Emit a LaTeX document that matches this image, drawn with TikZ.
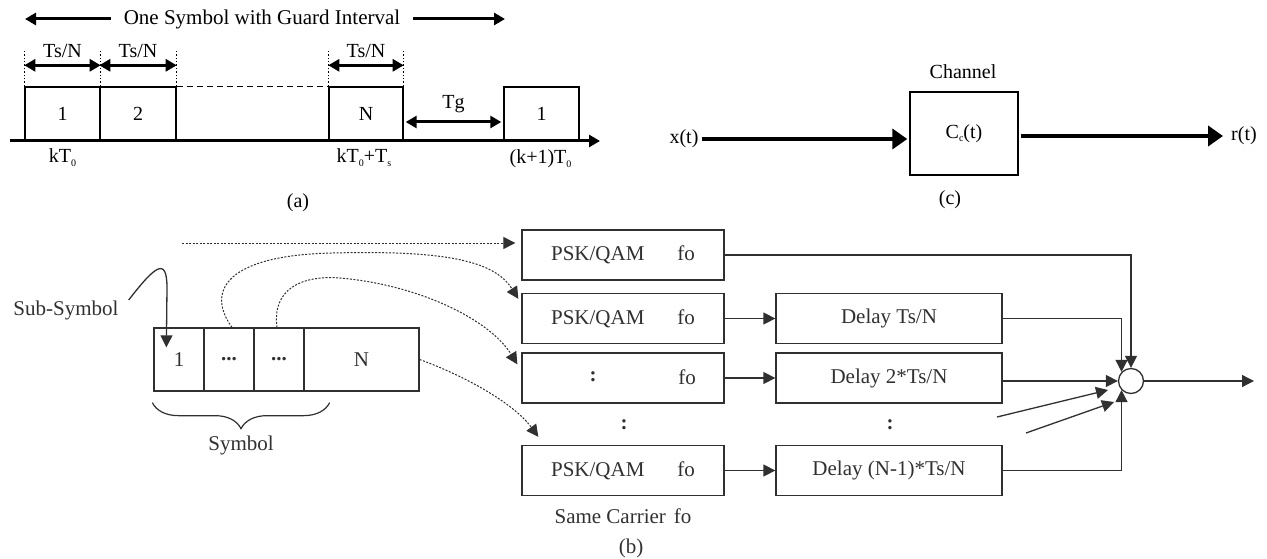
\documentclass[tikz,border=0pt]{standalone}
\usepackage{fontspec}
\setmainfont{Liberation Serif}
\usetikzlibrary{arrows.meta,decorations.pathreplacing,calc}
\definecolor{ink}{HTML}{303030}
\newcommand\lowsub[1]{\raisebox{-0.4ex}{\fontsize{10}{10}\selectfont #1}}

\tikzset{
  fathead/.tip={Triangle[length=11pt,width=12pt]},
  chanhead/.tip={Triangle[length=15pt,width=20pt]},
  flowhead/.tip={Triangle[length=12pt,width=12pt]},
  lbl/.style={font=\fontsize{20}{22}\selectfont, inner sep=0pt},
  blbl/.style={font=\fontsize{21}{23}\selectfont, inner sep=0pt, text=ink},
  slot/.style={lbl, draw, line width=1.4pt, minimum height=54pt, minimum width=75pt},
  span/.style={line width=3pt, fathead-fathead},
  wide/.style={line width=3pt, -fathead},
  chanline/.style={line width=4pt, -chanhead},
  pbox/.style={blbl, draw=ink, line width=1.3pt, minimum width=202pt, minimum height=50pt},
  dbox/.style={blbl, draw=ink, line width=1.3pt, minimum width=226pt, minimum height=50pt},
  sbox/.style={blbl, draw=ink, line width=1.3pt, minimum height=63pt},
  flow/.style={draw=ink, line width=1.3pt, -flowhead},
  dotline/.style={draw=ink, line width=1pt, dash pattern=on 2pt off 1.5pt, -flowhead},
}

\begin{document}
\begin{tikzpicture}[x=1pt,y=-1pt]
\useasboundingbox (0,0) rectangle (1267,559);

% ---------- (a) time frame of one symbol ----------
\node[lbl, font=\fontsize{21}{23}\selectfont] (title) at (262,19) {One Symbol with Guard Interval};
\coordinate (tl) at (25,19);
\coordinate (tr) at (505,19);
\draw[wide] ($(title.west)+(-13,0)$) -- (tl);
\draw[wide] ($(title.east)+(13,0)$) -- (tr);

\node[slot] (a1) at (62.5,114) {1};
\node[slot, minimum width=76pt] (a2) at (138,114) {2};
\node[slot, minimum width=74pt] (aN) at (366,114) {N};
\node[slot] (a1n) at (541.5,114) {1};

\draw[line width=1.4pt, dash pattern=on 6pt off 4pt] (a2.north east) -- (aN.north west);

\coordinate (ax0) at (10,141);
\coordinate (ax1) at (600,141);
\draw[line width=3pt, -fathead] (ax0) -- (ax1);

\foreach \p in {a1.north west, a1.north east, a2.north east, aN.north west, aN.north east}
  \draw[dotted, line width=1.4pt] (\p) -- ++(0,-37);

\draw[span] ($(a1.north west)+(0,-21)$) -- ($(a1.north east)+(0,-21)$);
\draw[span] ($(a2.north west)+(0,-21)$) -- ($(a2.north east)+(0,-21)$);
\draw[span] ($(aN.north west)+(0,-21)$) -- ($(aN.north east)+(0,-21)$);
\node[lbl] (t1) at ($(a1.north)+(0,-35)$) {Ts/N};
\node[lbl] (t2) at ($(a2.north)+(0,-35)$) {Ts/N};
\node[lbl] (t3) at ($(aN.north)+(0,-35)$) {Ts/N};

\draw[span] ($(aN.east)+(2,8)$) -- ($(a1n.west)+(-2,8)$);
\node[lbl] (tg) at ($(aN.east)!0.5!(a1n.west)+(0,-10)$) {Tg};

\node[lbl] (k0) at ($(a1.south)+(0,16)$) {kT\lowsub{0}};
\node[lbl] (k1) at ($(aN.south)+(-2,16)$) {kT\lowsub{0}+T\lowsub{s}};
\node[lbl] (k2) at ($(a1n.south)+(-1,17)$) {(k+1)T\lowsub{0}};
\node[lbl] (capa) at (298,203) {(a)};

% ---------- (c) channel ----------
\node[lbl, draw, line width=1.4pt, minimum width=108pt, minimum height=83pt] (chan) at (964,133.5) {C\lowsub{c}(t)};
\node[lbl] (chname) at (963,72) {Channel};
\node[lbl] (xt) at (684,139) {x(t)};
\node[lbl] (rt) at (1244,136) {r(t)};
\draw[chanline] ($(xt.east)+(3,0)$) -- ($(chan.west |- xt.east)+(-2,0)$);
\draw[chanline] ($(chan.east |- rt.west)+(2,0)$) -- ($(rt.west)+(-8,0)$);
\node[lbl] (capc) at (950,200) {(c)};

% ---------- (b) sub-symbols on one carrier ----------
\node[sbox, minimum width=50pt] (s1) at (179,359.5) {1};
\node[sbox, minimum width=50pt] (s2) at (229,359.5) {\textbf{...}};
\node[sbox, minimum width=50pt] (s3) at (279,359.5) {\textbf{...}};
\node[sbox, minimum width=115pt] (sN) at (361.5,359.5) {N};

\node[blbl] (sub) at (66,310) {Sub-Symbol};
\draw[flow] ($(sub.east)+(10,-10)$) .. controls (155,266) and (167,256) .. (167,288) -- ($(s1.north west)+(13,20)$);

\draw[draw=ink, line width=1.2pt, decorate, decoration={brace, amplitude=26pt}]
  ($(s3.south east)+(25,11)$) -- ($(s1.south west)+(-1,11)$);
\node[blbl] (sym) at (241,445) {Symbol};

\node[pbox] (p1) at (623,255) {PSK/QAM\hspace{33pt}fo};
\node[pbox] (p2) at (623,318.5) {PSK/QAM\hspace{33pt}fo};
\node[pbox] (p3) at (623,378) {};
\node[blbl] (p3a) at (593,377) {\textbf{:}};
\node[blbl] (p3b) at (687,377) {fo};
\node[pbox] (p4) at (623,470.5) {PSK/QAM\hspace{33pt}fo};
\node[blbl] (vd1) at (624,425) {\textbf{:}};

\node[dbox] (d2) at (889,318.5) {Delay Ts/N};
\node[dbox] (d3) at (889,378) {Delay 2*Ts/N};
\node[dbox] (d4) at (889,470.5) {Delay (N-1)*Ts/N};
\node[blbl] (vd2) at (890,425) {\textbf{:}};

\node[blbl] (same) at (623,516) {Same Carrier\hspace{8pt}fo};
\node[blbl] (capb) at (631,548) {(b)};

% serial-to-parallel feeds
\coordinate (src) at (182,243);
\draw[dotline] (src) -- ($(p1.west |- src)+(-6,0)$);
\draw[dotline] ($(s2.north)+(3,0)$) .. controls (205,290) and (228,255) .. (333,253)
  .. controls (450,250) and (495,262) .. ($(p2.north west)+(-3,6)$);
\draw[dotline] ($(s3.north)+(-2,0)$) .. controls (272,290) and (300,275) .. (340,278)
  .. controls (420,285) and (490,320) .. ($(p3.north west)+(-4,12)$);
\draw[dotline] (sN.east) .. controls (470,378) and (515,405) .. ($(p4.north west)+(17,-8)$);

% modulators to delays
\draw[flow] (p2.east) -- (d2.west);
\draw[flow] (p3.east) -- (d3.west);
\draw[flow] (p4.east) -- (d4.west);

% summing junction
\node[circle, draw=ink, line width=1.3pt, minimum size=25pt, inner sep=0pt, fill=white] (sum) at (1131,381) {};
\draw[flow] (p1.east) -| (sum.north);
\draw[flow] (d2.east) -| (sum.136);
\draw[flow] (d3.east |- sum.west) -- (sum.west);
\draw[flow] (d4.east) -| (sum.224);
\coordinate (q1) at (997,417);
\coordinate (q1e) at (1108,390);
\coordinate (q2) at (1026,433);
\coordinate (q2e) at (1114,402);
\draw[flow] (q1) -- (q1e);
\draw[flow] (q2) -- (q2e);
\coordinate (out) at (1254,381);
\draw[flow] (sum.east) -- (out);
\end{tikzpicture}
\end{document}
